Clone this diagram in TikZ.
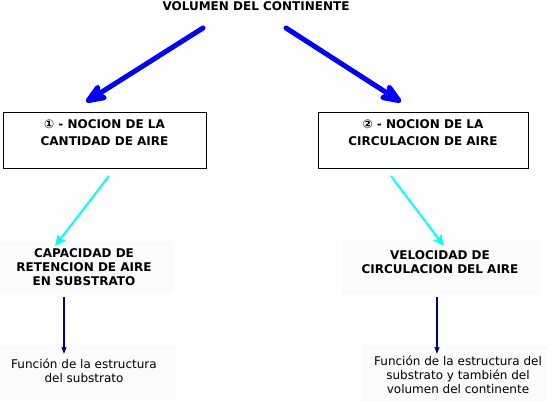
\documentclass[tikz,border=0pt]{standalone}
\usepackage{fontspec}
\setmainfont{DejaVu Sans}
\usetikzlibrary{arrows.meta}
\definecolor{bigblue}{RGB}{0,0,255}
\definecolor{lightcyan}{RGB}{0,255,255}
\definecolor{navyblue}{RGB}{0,0,128}
\definecolor{faint}{RGB}{251,251,251}
\tikzset{
  boldtxt/.style={font=\fontsize{12}{14}\selectfont\bfseries, align=center, inner sep=0pt},
  boxtxt/.style={font=\fontsize{12}{16.5}\selectfont\bfseries, align=center, inner sep=0pt},
  plaintxt/.style={font=\fontsize{12}{14}\selectfont, align=center, inner sep=0pt},
  mainbox/.style={draw=black, line width=0.8pt},
  shade/.style={fill=faint, draw=none},
  bigarrow/.style={bigblue, line width=5pt, line cap=round, -{Stealth[length=28pt,width=22pt,inset=7pt,round]}},
  midarrow/.style={lightcyan, line width=2pt, -{Stealth[length=11pt,width=10pt,inset=2pt]}},
  smallarrow/.style={navyblue, line width=2pt, -{Stealth[length=7pt,width=5pt,inset=1pt]}},
}
\begin{document}
\begin{tikzpicture}[x=1pt,y=-1pt]
\useasboundingbox (0,0) rectangle (547,402);
% faint backgrounds
\fill[shade] (0,241) rectangle (173,293);
\fill[shade] (343,240) rectangle (540,295);
\fill[shade] (0,345) rectangle (176,400);
\fill[shade] (362,345) rectangle (547,402);
% title
\node[boldtxt] (title) at (256,6.5) {VOLUMEN DEL CONTINENTE};
% boxes
\draw[mainbox] (3,112) rectangle (206,168);
\draw[mainbox] (318,112) rectangle (528,168);
\node[boxtxt, anchor=north] (n1) at (104.5,119.5) {① - NOCION DE LA\\CANTIDAD DE AIRE};
\node[boxtxt, anchor=north] (n2) at (423,119.5) {② - NOCION DE LA\\CIRCULACION DE AIRE};
% middle texts
\node[boldtxt, anchor=north] (m1) at (84,248.5) {CAPACIDAD DE\\RETENCION DE AIRE\\EN SUBSTRATO};
\node[boldtxt, anchor=north] (m2) at (440,250.5) {VELOCIDAD DE\\CIRCULACION DEL AIRE};
% bottom texts
\node[plaintxt, anchor=north] (b1) at (84,359) {Función de la estructura\\del substrato};
\node[plaintxt, anchor=north] (b2) at (458,356) {Función de la estructura del\\substrato y también del\\volumen del continente};
% connector endpoints
\coordinate (a1s) at (203,28);
\coordinate (a1e) at (86,102);
\coordinate (a2s) at (286,28);
\coordinate (a2e) at (401,102);
\coordinate (c1s) at (109,176);
\coordinate (c1e) at (55,246);
\coordinate (c2s) at (391,176);
\coordinate (c2e) at (444,246);
\coordinate (d1s) at (64,297);
\coordinate (d1e) at (64,354);
\coordinate (d2s) at (437,297);
\coordinate (d2e) at (437,354);
\draw[bigarrow] (a1s) -- (a1e);
\draw[bigarrow] (a2s) -- (a2e);
\draw[midarrow] (c1s) -- (c1e);
\draw[midarrow] (c2s) -- (c2e);
\draw[smallarrow] (d1s) -- (d1e);
\draw[smallarrow] (d2s) -- (d2e);
\end{tikzpicture}
\end{document}
